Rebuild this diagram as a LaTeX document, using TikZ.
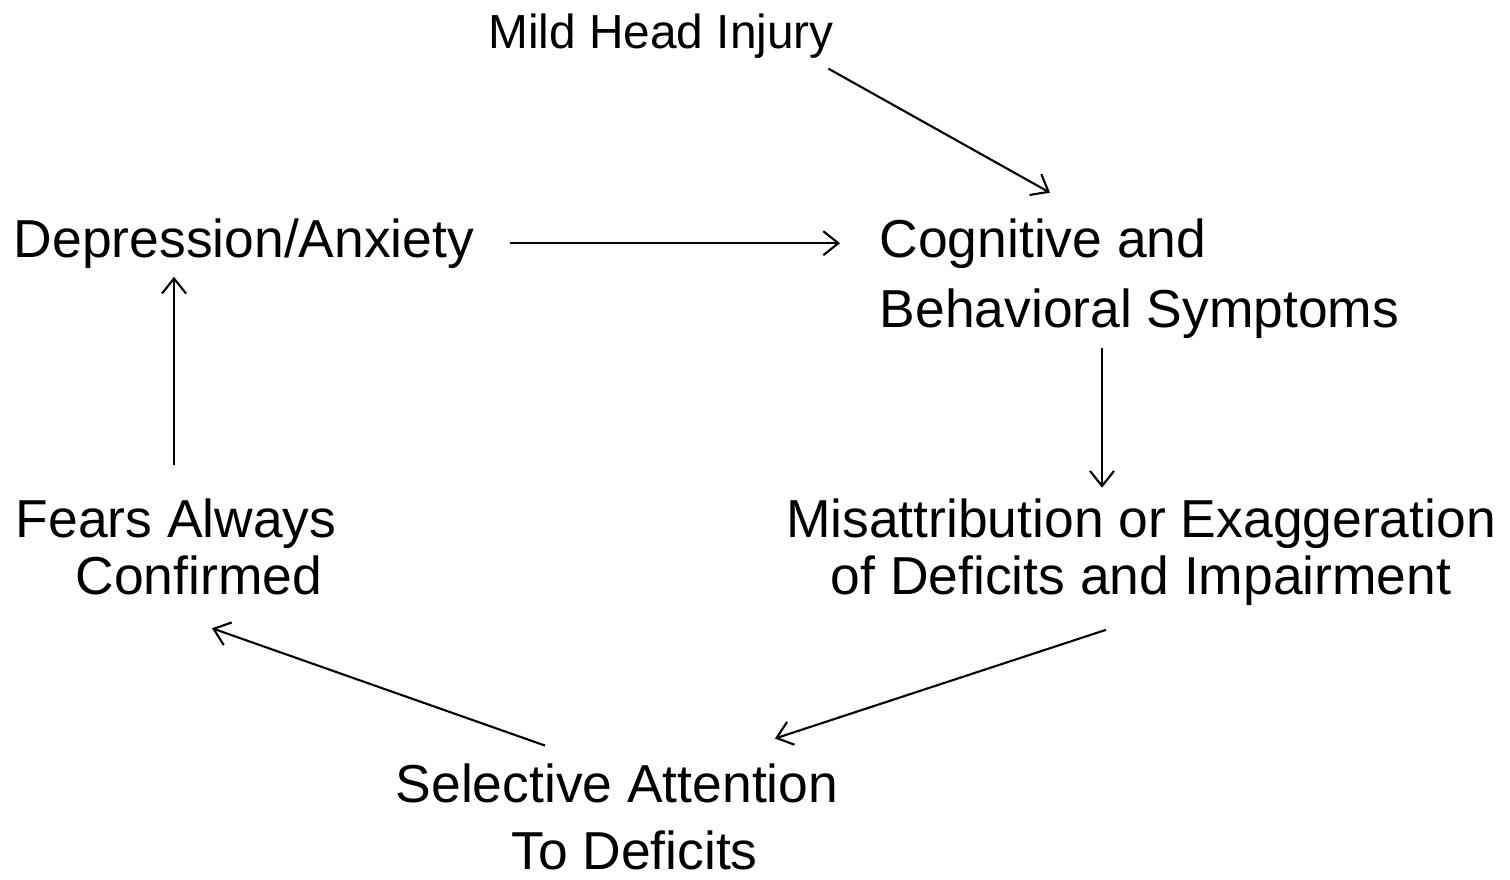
\documentclass[tikz,border=0pt]{standalone}
\usepackage{fontspec}
\setmainfont{Liberation Sans}
\usetikzlibrary{arrows.meta}

\tikzset{
  box/.style={inner sep=0pt, font=\fontsize{15.2}{19.9}\selectfont},
  arr/.style={line width=0.6pt, -{Straight Barb[length=1.5mm,width=2.4mm]}}
}

\begin{document}
\begin{tikzpicture}
\useasboundingbox (0,0) rectangle (15.1,-8.79);

\node[box, anchor=base, font=\fontsize{13.6}{16}\selectfont] (mhi) at (6.61,-0.48) {Mild Head Injury};
\node[box, anchor=base] (dep) at (2.44,-2.57) {Depression/Anxiety};
\node[box, anchor=base west, align=left] (cog) at (8.79,-3.27) {Cognitive and\\Behavioral Symptoms};
\node[box, anchor=base, align=center, font=\fontsize{15.2}{16.2}\selectfont] (mis) at (11.41,-5.94)
  {Misattribution or Exaggeration\\of Deficits and Impairment};
\node[box, anchor=base, align=center, font=\fontsize{15.2}{18.8}\selectfont] (sel) at (6.17,-8.69)
  {Selective Attention\\\hspace*{0.35cm}To Deficits};
\node[box, anchor=base west, align=left, font=\fontsize{15.2}{16.2}\selectfont] (fea) at (0.15,-5.94)
  {Fears Always\\\hspace*{0.6cm}Confirmed};

% cycle
\draw[arr] ([shift={(-0.06,-0.1)}]mhi.south east) -- ([shift={(1.71,0.25)}]cog.north west);
\draw[arr] ([xshift=3.5mm]dep.east) -- ([xshift=-3.9mm]cog.west |- dep.east);
\draw[arr] ([shift={(-0.375,-0.09)}]cog.south) -- ([xshift=-0.375cm,yshift=0.1cm]mis.north -| cog.south);
\draw[arr] ([shift={(-0.35,-0.24)}]mis.south) -- ([shift={(-0.64,0.25)}]sel.north east);
\draw[arr] ([shift={(-0.72,0.18)}]sel.north) -- ([shift={(0.36,-0.33)}]fea.south);
\draw[arr] ([shift={(-0.02,0.33)}]fea.north) -- ([xshift=-0.02cm,yshift=-0.08cm]dep.south -| fea.north);

\end{tikzpicture}
\end{document}
